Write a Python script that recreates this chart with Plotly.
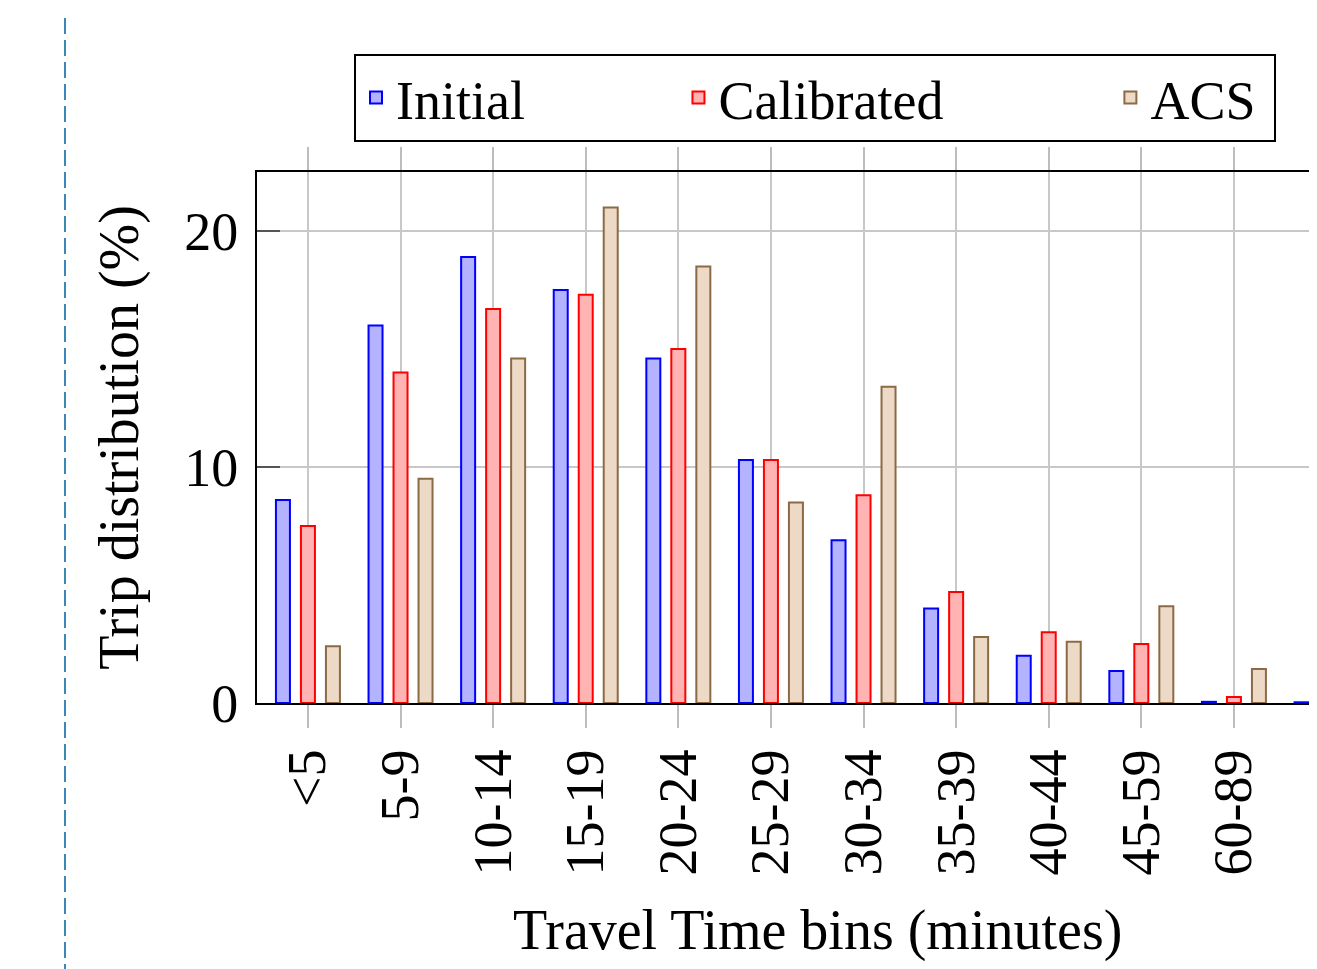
import plotly.graph_objects as go

categories = ["<5", "5-9", "10-14", "15-19", "20-24", "25-29", "30-34",
              "35-39", "40-44", "45-59", "60-89", ">90"]
initial = [8.6, 16.0, 18.9, 17.5, 14.6, 10.3, 6.9, 4.0, 2.0, 1.36, 0.05, 0.03]
calibrated = [7.5, 14.0, 16.7, 17.3, 15.0, 10.3, 8.8, 4.7, 3.0, 2.5, 0.25, 0.1]
acs = [2.4, 9.5, 14.6, 21.0, 18.5, 8.5, 13.4, 2.8, 2.6, 4.1, 1.44, 0.5]
y_ticks = [0, 10, 20]

FONT = "Liberation Serif, Times New Roman, serif"
OFF = 8  # page body margin
W, H = 1317, 969 - OFF
L, T = 257 - OFF, 172 - OFF
R = 0
B = H - (703 - OFF)
pw = W - L - R
ph = H - T - B

def px_x(x):
    return (x - OFF - L) / pw

def px_y(y):
    return (H - B - (y - OFF)) / ph

fig = go.Figure()
fig.add_trace(go.Bar(x=categories, y=initial, name="Initial" + "\u00a0" * 11,
                     marker=dict(color="#b3b3ff", line=dict(color="#0000ff", width=2))))
fig.add_trace(go.Bar(x=categories, y=calibrated, name="Calibrated" + "\u00a0" * 12,
                     marker=dict(color="#ffb3b3", line=dict(color="#ff0000", width=2))))
fig.add_trace(go.Bar(x=categories, y=acs, name="ACS\u00a0",
                     marker=dict(color="#ecd9c6", line=dict(color="#8c6a45", width=2))))

fig.update_layout(
    width=W, height=H,
    margin=dict(l=L, r=R, t=T, b=B, pad=0),
    paper_bgcolor="white", plot_bgcolor="white",
    font=dict(family=FONT, size=54, color="black"),
    barmode="group", bargap=0.19, bargroupgap=0.44,
    legend=dict(orientation="h", x=px_x(354), y=px_y(54), xanchor="left", yanchor="top",
                bordercolor="black", borderwidth=2, bgcolor="white",
                font=dict(family=FONT, size=54, color="black"),
                itemsizing="constant"),
    showlegend=True,
)
fig.update_xaxes(
    type="category", range=[-0.55, -0.55 + pw / 92.6],
    showline=True, linecolor="black", linewidth=2, mirror="ticks",
    showgrid=True, gridcolor="#c8c8c8", gridwidth=1.5,
    ticks="outside", ticklen=23, tickcolor="#bdbdbd", tickwidth=1.5,
    tickangle=-90, tickfont=dict(family=FONT, size=54, color="black"),
    zeroline=False,
)
fig.update_yaxes(
    range=[0, 22.5], tickvals=y_ticks,
    showline=True, linecolor="black", linewidth=2, mirror=False,
    showgrid=True, gridcolor="#c8c8c8", gridwidth=1.5,
    ticks="inside", ticklen=23, tickcolor="#555555", tickwidth=1.5,
    tickfont=dict(family=FONT, size=54, color="black"), ticklabelstandoff=6,
    zeroline=False,
    title=dict(text="Trip distribution (%)", font=dict(family=FONT, size=56, color="black"),
               standoff=28),
)
fig.add_annotation(text="Travel Time bins (minutes)", xref="paper", yref="paper",
                   x=px_x(817), y=px_y(930), xanchor="center", yanchor="middle",
                   showarrow=False, font=dict(family=FONT, size=56, color="black"))
fig.add_shape(type="line", xref="paper", yref="paper",
              x0=px_x(65), x1=px_x(65), y0=px_y(18), y1=px_y(969),
              line=dict(color="#3a87b8", width=2, dash="16px,6px"))

fig.write_html("out.html")
